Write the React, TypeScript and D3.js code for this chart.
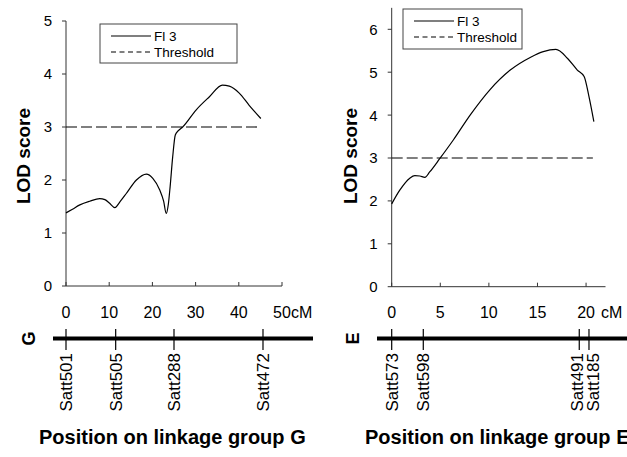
import React from "react";
import * as d3 from "d3";

// ---------- data ----------
const leftCM = [0, 1.5, 3.2, 5.5, 7.8, 9, 10.1, 11.3, 12.6, 14, 16.3, 18.6, 20.1, 21.7, 22.6, 23.2, 23.7, 24.1, 24.7, 25.3, 26, 27, 30.1, 33.2, 36.2, 37.8, 40.1, 42.4, 45.1];
const leftLOD = [1.38, 1.45, 1.53, 1.6, 1.65, 1.63, 1.56, 1.48, 1.6, 1.75, 2.0, 2.11, 2.03, 1.81, 1.6, 1.37, 1.55, 1.87, 2.44, 2.85, 2.93, 3.0, 3.32, 3.57, 3.79, 3.77, 3.64, 3.41, 3.16];
const leftThreshold = [[0, 3], [45, 3]];
const leftTicksX = [0, 10, 20, 30, 40, 50];
const leftTicksY = [0, 1, 2, 3, 4, 5];
const leftMarkerNames = ["Satt501", "Satt505", "Satt288", "Satt472"];
const leftMarkerPos = [0, 11.5, 25, 45.6];

const rightCM = [0, 0.83, 1.86, 2.38, 2.9, 3.41, 3.93, 4.96, 6.34, 8.07, 10.1, 12.2, 14.3, 15.6, 16.9, 18.1, 19.1, 19.8, 20.3, 20.8];
const rightLOD = [1.93, 2.25, 2.53, 2.59, 2.58, 2.55, 2.68, 2.99, 3.42, 4.0, 4.59, 5.05, 5.35, 5.48, 5.53, 5.32, 5.05, 4.9, 4.43, 3.85];
const rightThreshold = [[0, 3], [20.7, 3]];
const rightTicksX = [0, 5, 10, 15, 20];
const rightTicksY = [0, 1, 2, 3, 4, 5, 6];
const rightMarkerNames = ["Satt573", "Satt598", "Satt491", "Satt185"];
const rightMarkerPos = [0, 3.25, 19.3, 20.3];

const seriesName = "Fl 3";
const thresholdName = "Threshold";

const FONT = "'Liberation Sans', Arial, Helvetica, sans-serif";

type PanelProps = {
  cm: number[]; lod: number[]; thr: number[][];
  ticksX: number[]; ticksY: number[];
  xDomain: [number, number]; xRange: [number, number];
  yDomain: [number, number]; yRange: [number, number];
  markers: string[]; markerPos: number[]; labelNudge: number[];
  group: string; groupX: number; barStart: number; barEnd: number;
  legend: { x: number; y: number; w: number; h: number };
  yLabelX: number; titleX: number; cmX: number;
};

function Panel(p: PanelProps) {
  const x = d3.scaleLinear().domain(p.xDomain).range(p.xRange);
  const y = d3.scaleLinear().domain(p.yDomain).range(p.yRange);
  const pts = p.cm.map((c, i) => [c, p.lod[i]] as [number, number]);
  const line = d3.line<[number, number]>().x(d => x(d[0])).y(d => y(d[1])).curve(d3.curveMonotoneX);
  const thr = d3.line<number[]>().x(d => x(d[0])).y(d => y(d[1]));
  const x0 = p.xRange[0];
  const y0 = y(0);
  const barY = 338.5;
  const lg = p.legend;
  return (
    <g>
      {/* axes */}
      <line x1={x0} x2={x0} y1={y0} y2={y(p.yDomain[1])} stroke="#333" strokeWidth={1} />
      <line x1={x0} x2={p.xRange[1]} y1={y0} y2={y0} stroke="#333" strokeWidth={1} />
      {p.ticksY.map(t => (
        <g key={"ty" + t}>
          <line x1={x0 - 4} x2={x0} y1={y(t)} y2={y(t)} stroke="#333" />
          <text x={x0 - 14} y={y(t)} dy="0.36em" textAnchor="end" fontSize={15} fontFamily={FONT}>{t}</text>
        </g>
      ))}
      {p.ticksX.map(t => (
        <g key={"tx" + t}>
          <line x1={x(t)} x2={x(t)} y1={y0} y2={y0 - 4} stroke="#333" />
          <text x={x(t)} y={318} textAnchor="middle" fontSize={16} fontFamily={FONT}>{t}</text>
        </g>
      ))}
      <text x={p.cmX} y={318} fontSize={16} fontFamily={FONT}>cM</text>
      <text transform={`translate(${p.yLabelX},156) rotate(-90)`} textAnchor="middle" fontSize={19} fontWeight="bold" fontFamily={FONT}>LOD score</text>
      {/* series */}
      <path d={thr(p.thr) || ""} fill="none" stroke="#000" strokeWidth={1.1} strokeDasharray="11,4" />
      <path d={line(pts) || ""} fill="none" stroke="#000" strokeWidth={1.2} />
      {/* legend */}
      <rect x={lg.x} y={lg.y} width={lg.w} height={lg.h} fill="#fff" stroke="#444" strokeWidth={1} />
      <line x1={lg.x + 11} x2={lg.x + 51} y1={lg.y + 12} y2={lg.y + 12} stroke="#000" strokeWidth={1.1} />
      <text x={lg.x + 54} y={lg.y + 17} fontSize={13.5} fontFamily={FONT}>{seriesName}</text>
      <line x1={lg.x + 11} x2={lg.x + 51} y1={lg.y + 28} y2={lg.y + 28} stroke="#000" strokeWidth={1.1} strokeDasharray="5,3.5" />
      <text x={lg.x + 54} y={lg.y + 33} fontSize={13.5} fontFamily={FONT}>{thresholdName}</text>
      {/* linkage map */}
      <text transform={`translate(${p.groupX},${barY}) rotate(-90)`} textAnchor="middle" dy="0.36em" fontSize={18} fontWeight="bold" fontFamily={FONT}>{p.group}</text>
      <line x1={p.barStart} x2={p.barEnd} y1={barY} y2={barY} stroke="#000" strokeWidth={4} />
      {p.markers.map((m, i) => (
        <g key={m}>
          <line x1={x(p.markerPos[i])} x2={x(p.markerPos[i])} y1={329} y2={350} stroke="#000" strokeWidth={1.2} />
          <text transform={`translate(${x(p.markerPos[i]) + p.labelNudge[i]},353) rotate(-90)`} textAnchor="end" dy="0.36em" fontSize={17} fontFamily={FONT}>{m}</text>
        </g>
      ))}
      <text x={p.titleX} y={444} fontSize={20} fontWeight="bold" fontFamily={FONT}>Position on linkage group {p.group}</text>
    </g>
  );
}

export default function App() {
  return (
    <svg width={627} height={457} style={{ position: "absolute", left: 0, top: 0, background: "#fff" }}>
      <rect width={627} height={457} fill="#fff" />
      <Panel cm={leftCM} lod={leftLOD} thr={leftThreshold} ticksX={leftTicksX} ticksY={leftTicksY}
        xDomain={[0, 50]} xRange={[66, 282]} yDomain={[0, 5]} yRange={[286, 21]}
        markers={leftMarkerNames} markerPos={leftMarkerPos} labelNudge={[0, 0, 0, 0]}
        group="G" groupX={29} barStart={53} barEnd={313}
        legend={{ x: 100, y: 24, w: 137, h: 39 }} yLabelX={30} titleX={39} cmX={291} />
      <Panel cm={rightCM} lod={rightLOD} thr={rightThreshold} ticksX={rightTicksX} ticksY={rightTicksY}
        xDomain={[0, 22]} xRange={[391.7, 605.5]} yDomain={[0, 6.5]} yRange={[286.7, 7.85]}
        markers={rightMarkerNames} markerPos={rightMarkerPos} labelNudge={[0, 0, -2, 4]}
        group="E" groupX={353} barStart={377} barEnd={627}
        legend={{ x: 403, y: 9, w: 119, h: 40 }} yLabelX={357} titleX={365} cmX={601} />
    </svg>
  );
}
